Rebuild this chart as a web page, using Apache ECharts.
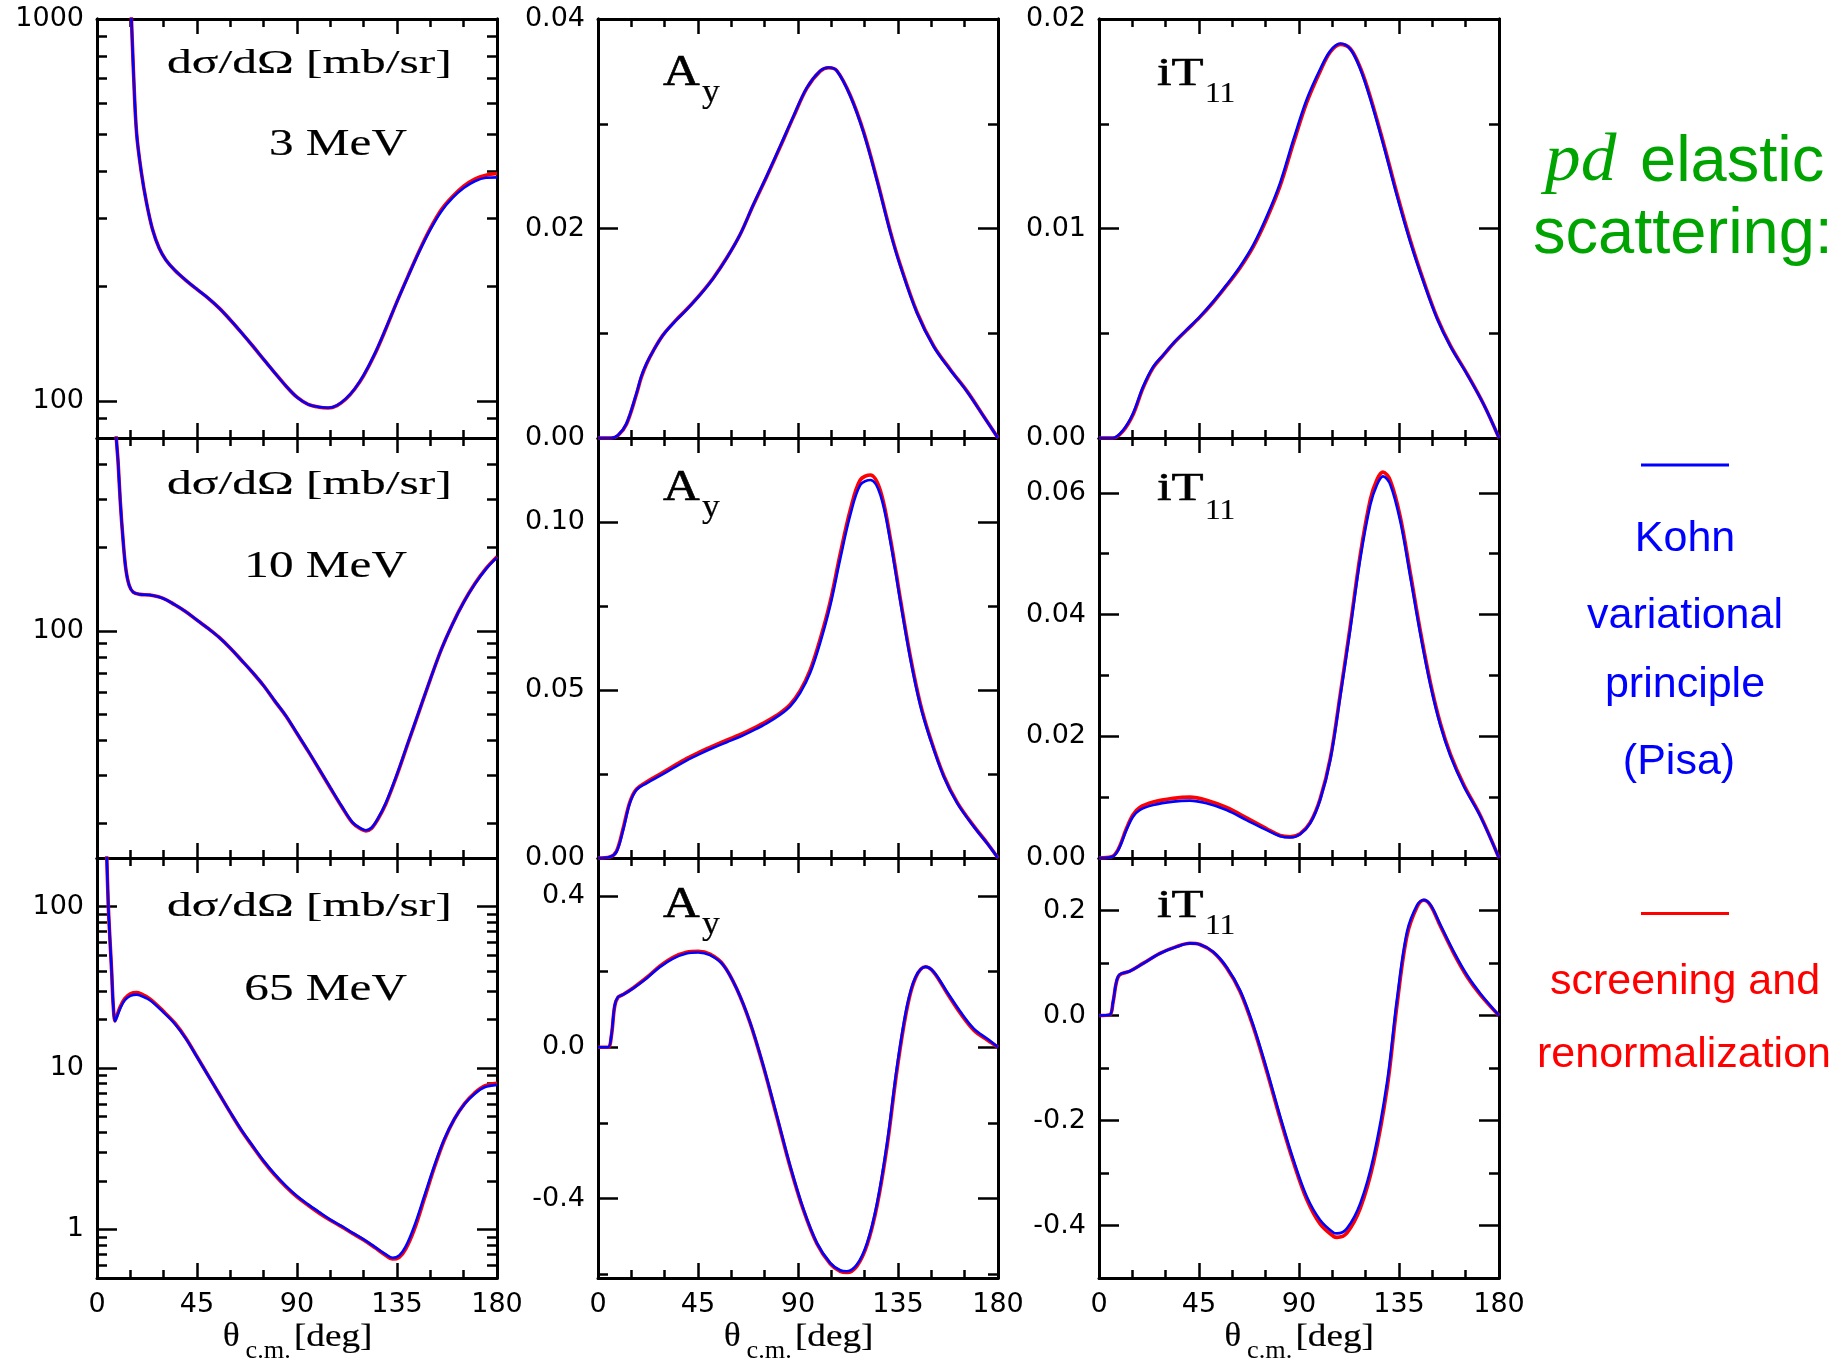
<!DOCTYPE html>
<html>
<head>
<meta charset="utf-8">
<script src="https://cdn.jsdelivr.net/npm/echarts@6/dist/echarts.min.js"></script>
<style>
html,body{margin:0;padding:0;background:#ffffff;}
#chart{width:1844px;height:1363px;}
</style>
</head>
<body>
<div id="chart"></div>
<script>
// ---------------- DATA ----------------
// Row 1: 3 MeV
const ANG_XS3 = [15.0, 15.5, 16.3, 17.8, 20, 22.3, 25, 28, 31, 35, 40, 45, 50, 55, 60, 65, 70, 75, 80, 85, 90, 95, 100, 104, 108, 112, 116, 120, 125, 130, 135, 140, 145, 150, 155, 160, 165, 170, 175, 180];
const XS3_KOHN = [1150, 1000, 754, 504, 395, 330, 281, 251, 234, 220, 207, 196, 186, 175, 163, 151, 139.5, 128.5, 118.5, 109.5, 102.3, 98, 96.4, 96.0, 97.4, 101.4, 107.7, 116.8, 133, 155, 182, 212, 246, 281, 314, 340, 361, 376, 384, 385];
const XS3_SCREEN = [1150, 1000, 754, 504, 395, 330, 281, 251, 234, 220, 207, 196, 186, 175, 163, 151, 139.5, 128.5, 118.5, 109.5, 102.3, 98, 96.3, 95.9, 97.3, 101.2, 107.5, 116.5, 132.5, 154.5, 182, 212.5, 247, 283, 317, 343, 365, 381, 390, 394];

const ANG_AY3 = [0, 6, 9.0, 12.8, 17.3, 19.5, 21.8, 24.8, 29.3, 35.3, 39.8, 45.9, 51.9, 57.9, 63.9, 69.9, 75.9, 82, 88, 94, 100, 103.8, 107.5, 113.5, 119.5, 125.6, 131.6, 136.1, 143.6, 151.1, 158.6, 166.2, 173.7, 180];
const AY3_KOHN = [0, 0, 0.00026, 0.00137, 0.00425, 0.0059, 0.0071, 0.0083, 0.00983, 0.01127, 0.01223, 0.01366, 0.01526, 0.01717, 0.01941, 0.02228, 0.025, 0.02787, 0.03074, 0.03345, 0.03505, 0.03537, 0.03505, 0.03266, 0.02915, 0.02452, 0.01957, 0.01638, 0.01191, 0.00871, 0.00648, 0.0044, 0.00201, 0];
const AY3_SCREEN = [0, 0, 0.00024, 0.00132, 0.00418, 0.0058, 0.00705, 0.0083, 0.00985, 0.0113, 0.01226, 0.01369, 0.01528, 0.01718, 0.0194, 0.02224, 0.02494, 0.0278, 0.03068, 0.0334, 0.03502, 0.03535, 0.03506, 0.03272, 0.02925, 0.02463, 0.01968, 0.01648, 0.01198, 0.00877, 0.00652, 0.00443, 0.00203, 0];

const ANG_T3 = [0, 6.3, 10.8, 15.3, 19.8, 24.4, 28.9, 33.4, 39.4, 45.4, 51.4, 57.4, 63.5, 69.5, 75.5, 81.5, 87.5, 93.5, 99.5, 104.1, 108.6, 113.1, 117.6, 122.1, 128.1, 134.1, 140.2, 146.2, 152.2, 158.2, 165.7, 173.2, 180];
const T3_KOHN = [0, 0, 0.00037, 0.00117, 0.00244, 0.0034, 0.00396, 0.00452, 0.00516, 0.00579, 0.00651, 0.00731, 0.00819, 0.00923, 0.01058, 0.01218, 0.01425, 0.01617, 0.0176, 0.01848, 0.01883, 0.01856, 0.0176, 0.01617, 0.01393, 0.01154, 0.0093, 0.00739, 0.00568, 0.00436, 0.00303, 0.00158, 0];
const T3_SCREEN = [0, 0, 0.00033, 0.00111, 0.00238, 0.00336, 0.00394, 0.0045, 0.00514, 0.00577, 0.00648, 0.00727, 0.00813, 0.00915, 0.01047, 0.01203, 0.01408, 0.01602, 0.0175, 0.01843, 0.01879, 0.01858, 0.01767, 0.01628, 0.01405, 0.01166, 0.0094, 0.00746, 0.00573, 0.0044, 0.00305, 0.00159, 0];

// Row 2: 10 MeV
const ANG_XS10 = [8.2, 8.7, 9.5, 10.5, 11.7, 13.0, 14.5, 16.3, 19.3, 23.8, 29.8, 35, 40, 45, 50, 55, 60, 65, 70, 75, 80, 85, 90, 95, 100, 105, 110, 115, 118.7, 121, 123.5, 126.2, 130, 135, 140, 145, 150, 155, 160, 165, 170, 175, 180];
const XS10_KOHN = [600, 499, 408, 292, 215, 167, 146, 138, 135.5, 134.7, 131, 124.3, 117.2, 109.3, 102, 94.6, 86.5, 78.2, 70.6, 63.2, 55.7, 49.2, 42.5, 36.7, 31.5, 27.0, 23.2, 20.2, 19.2, 18.9, 19.3, 20.7, 23.8, 30.2, 39.4, 51.3, 66.8, 85.8, 105.7, 126.7, 147.6, 167.4, 184.5];
const XS10_SCREEN = [600, 499, 408, 292, 215, 167, 146, 138, 135.5, 134.7, 131, 124.3, 117.2, 109.3, 102, 94.6, 86.5, 78.2, 70.6, 63.2, 55.6, 49.1, 42.4, 36.6, 31.4, 26.9, 23.1, 20.1, 19.1, 18.8, 19.2, 20.6, 23.6, 30.0, 39.2, 51.1, 66.7, 85.8, 105.9, 127.0, 148.0, 168.0, 185.5];

const ANG_AY10 = [0, 5.3, 8.3, 11.3, 14.3, 17.3, 21.8, 27.8, 33.8, 39.8, 45.9, 51.9, 57.9, 63.9, 69.9, 75.9, 82, 86.5, 91, 95.5, 100, 104.5, 109, 113.5, 118, 122.6, 127.1, 131.6, 136.1, 140.6, 145.1, 149.6, 155.6, 161.7, 169.2, 175.2, 180];
const AY10_KOHN = [0, 0.0003, 0.0018, 0.0083, 0.01625, 0.02024, 0.02223, 0.02443, 0.02672, 0.0290, 0.0310, 0.0328, 0.03445, 0.0361, 0.0380, 0.0401, 0.04267, 0.04516, 0.04915, 0.05513, 0.06411, 0.07507, 0.08903, 0.102, 0.111, 0.1125, 0.108, 0.094, 0.0761, 0.0591, 0.0452, 0.0352, 0.0242, 0.01625, 0.00927, 0.00429, 0];
const AY10_SCREEN = [0, 0.0003, 0.002, 0.0088, 0.0166, 0.0205, 0.0226, 0.0249, 0.0273, 0.0296, 0.0316, 0.0334, 0.0351, 0.0367, 0.0386, 0.0407, 0.0432, 0.0457, 0.0498, 0.0560, 0.0652, 0.0763, 0.0905, 0.1035, 0.1125, 0.1140, 0.1093, 0.0950, 0.0769, 0.0598, 0.0458, 0.0356, 0.0245, 0.0165, 0.0094, 0.0044, 0];

const ANG_T10 = [0, 5.6, 8.6, 12.3, 15.3, 18.3, 24.4, 33.4, 40.9, 48.4, 57.4, 66.4, 75.5, 81.5, 86, 90.5, 95, 99.5, 104.1, 108.6, 113.1, 117.6, 122.1, 125.1, 127.8, 131.1, 135.6, 140.2, 144.7, 149.2, 153.7, 158.2, 164.2, 171.7, 180];
const T10_KOHN = [0, 0.00017, 0.00127, 0.00457, 0.00678, 0.00788, 0.0087, 0.00926, 0.00942, 0.00898, 0.00788, 0.00623, 0.00457, 0.00358, 0.00336, 0.00391, 0.00568, 0.00953, 0.01614, 0.02661, 0.03763, 0.0492, 0.05802, 0.06133, 0.0627, 0.06133, 0.05527, 0.0459, 0.03653, 0.02827, 0.02165, 0.0167, 0.01174, 0.00678, 0];
const T10_SCREEN = [0, 0.0002, 0.0014, 0.0048, 0.0071, 0.0083, 0.0092, 0.0098, 0.0100, 0.0095, 0.0083, 0.0066, 0.0048, 0.0037, 0.0035, 0.0040, 0.0058, 0.0097, 0.0164, 0.0270, 0.0382, 0.0499, 0.0589, 0.0622, 0.0634, 0.0620, 0.0560, 0.0466, 0.0371, 0.0287, 0.0220, 0.0170, 0.0120, 0.0069, 0];

// Row 3: 65 MeV
const ANG_XS65 = [4.0, 4.4, 5.1, 5.8, 6.6, 7.3, 8.1, 9.0, 10.5, 12.5, 15, 17.9, 19.3, 23.8, 29.8, 35, 40, 45, 50, 55, 60, 65, 70, 75, 80, 85, 90, 95, 100, 105, 110, 115, 120, 125, 130, 133, 136, 139, 142.8, 147.3, 151.8, 156.3, 160.8, 165.4, 169.9, 174.4, 180];
const XS65_KOHN = [280, 200, 100, 63.6, 39.5, 24.5, 19.5, 20.8, 23.5, 26.3, 28.0, 28.5, 28.2, 26.3, 22.2, 18.8, 15.2, 11.7, 8.98, 6.91, 5.31, 4.13, 3.30, 2.66, 2.20, 1.86, 1.61, 1.43, 1.28, 1.15, 1.05, 0.953, 0.867, 0.780, 0.70, 0.667, 0.69, 0.787, 1.05, 1.61, 2.48, 3.63, 4.83, 5.98, 6.91, 7.60, 7.86];
const XS65_SCREEN = [280, 200, 100, 63.6, 39.5, 24.5, 19.6, 21.2, 24.0, 26.9, 28.8, 29.3, 29.0, 26.8, 22.5, 19.0, 15.3, 11.75, 9.0, 6.9, 5.29, 4.1, 3.27, 2.63, 2.17, 1.84, 1.59, 1.41, 1.26, 1.14, 1.04, 0.945, 0.86, 0.772, 0.69, 0.655, 0.672, 0.76, 1.0, 1.55, 2.42, 3.58, 4.82, 6.02, 7.0, 7.75, 8.05];

const ANG_AY65 = [0, 4.5, 6.0, 7.5, 9.0, 11.3, 15.8, 21.8, 27.8, 33.8, 39.8, 45.1, 50.4, 56.4, 62.4, 68.4, 74.4, 80.5, 86.5, 92.5, 98.5, 104.5, 109, 112, 116.5, 121.1, 125.6, 130.1, 134.6, 139.1, 142.9, 147.4, 151.1, 157.1, 163.2, 169.2, 175.2, 180];
const AY65_KOHN = [0, 0, 0.031, 0.1105, 0.1326, 0.139, 0.1555, 0.1815, 0.2115, 0.2343, 0.2475, 0.2502, 0.2431, 0.2166, 0.1547, 0.0663, -0.0486, -0.1812, -0.3138, -0.4287, -0.517, -0.570, -0.5896, -0.5923, -0.5746, -0.517, -0.411, -0.252, -0.0486, 0.1105, 0.1856, 0.2122, 0.1989, 0.1459, 0.0928, 0.0486, 0.0221, 0];
const AY65_SCREEN = [0, 0, 0.029, 0.108, 0.1318, 0.1392, 0.1566, 0.1835, 0.2141, 0.2375, 0.2508, 0.2535, 0.2458, 0.2178, 0.1545, 0.0648, -0.0512, -0.1845, -0.317, -0.4315, -0.5195, -0.5725, -0.5925, -0.5955, -0.5785, -0.522, -0.418, -0.261, -0.058, 0.104, 0.1835, 0.2125, 0.1978, 0.1425, 0.0885, 0.0445, 0.019, 0];

const ANG_T65 = [0, 4.8, 6.3, 7.8, 9.3, 13.8, 19.8, 27.4, 34.9, 40.9, 45.4, 51.4, 57.4, 63.5, 69.5, 75.5, 81.5, 87.5, 93.5, 99.5, 105.6, 107.1, 111.6, 117.6, 123.6, 129.6, 134.1, 138.6, 143.2, 146.2, 149.2, 153.7, 159.7, 165.7, 171.7, 180];
const T65_KOHN = [0, 0.0013, 0.0255, 0.0638, 0.0779, 0.0843, 0.099, 0.1181, 0.1309, 0.1373, 0.1353, 0.1213, 0.0926, 0.0479, -0.0192, -0.1021, -0.1915, -0.2745, -0.3447, -0.3894, -0.4137, -0.415, -0.4054, -0.3575, -0.2681, -0.1277, 0.0319, 0.1596, 0.2107, 0.2202, 0.2107, 0.1724, 0.1213, 0.0766, 0.0415, 0];
const T65_SCREEN = [0, 0.0012, 0.0245, 0.0628, 0.0775, 0.0843, 0.0992, 0.1185, 0.1312, 0.1375, 0.1352, 0.1205, 0.0908, 0.0452, -0.0228, -0.1065, -0.1962, -0.2795, -0.3505, -0.397, -0.421, -0.4226, -0.414, -0.367, -0.279, -0.140, 0.020, 0.152, 0.2075, 0.2195, 0.2095, 0.1695, 0.118, 0.0735, 0.039, 0];

// Tick values / labels
const XTICK_LABELS = [0, 45, 90, 135, 180];
const TICKS_XS3 = [100, 1000];
const MINOR_XS3 = [90, 200, 300, 400, 500, 600, 700, 800, 900];
const TICKS_AY3 = [0, 0.02, 0.04];
const MINOR_AY3 = [0.01, 0.03];
const TICKS_T3 = [0, 0.01, 0.02];
const MINOR_T3 = [0.005, 0.015];
const TICKS_XS10 = [100];
const MINOR_XS10 = [20, 30, 40, 50, 60, 70, 80, 90, 200, 300, 400];
const TICKS_AY10 = [0, 0.05, 0.1];
const MINOR_AY10 = [0.025, 0.075];
const TICKS_T10 = [0, 0.02, 0.04, 0.06];
const MINOR_T10 = [0.01, 0.03, 0.05];
const TICKS_XS65 = [1, 10, 100];
const MINOR_XS65 = [0.6, 0.7, 0.8, 0.9, 2, 3, 4, 5, 6, 7, 8, 9, 20, 30, 40, 50, 60, 70, 80, 90];
const TICKS_AY65 = [-0.4, 0, 0.4];
const MINOR_AY65 = [-0.6, -0.2, 0.2];
const TICKS_T65 = [-0.4, -0.2, 0, 0.2];
const MINOR_T65 = [-0.3, -0.1, 0.1];

// ---------------- LAYOUT ----------------
const COL_LEFT = [97, 598, 1099];
const PANEL_W = 400;
const ROW_TOP = [19, 438, 858];
const ROW_H = [419, 420, 420];

const fmtInt = v => String(+Number(v).toPrecision(6));
const fmt2 = v => Number(v).toFixed(2);
const fmt1 = v => Number(v).toFixed(1);

const panels = [
  {row:0, col:0, type:'log',   min:80,    max:1000,  major:TICKS_XS3,  minor:MINOR_XS3,  fmt:fmtInt, ang:ANG_XS3,  kohn:XS3_KOHN,  scr:XS3_SCREEN},
  {row:0, col:1, type:'value', min:0,     max:0.04,  major:TICKS_AY3,  minor:MINOR_AY3,  fmt:fmt2,   ang:ANG_AY3,  kohn:AY3_KOHN,  scr:AY3_SCREEN},
  {row:0, col:2, type:'value', min:0,     max:0.02,  major:TICKS_T3,   minor:MINOR_T3,   fmt:fmt2,   ang:ANG_T3,   kohn:T3_KOHN,   scr:T3_SCREEN},
  {row:1, col:0, type:'log',   min:15,    max:500,   major:TICKS_XS10, minor:MINOR_XS10, fmt:fmtInt, ang:ANG_XS10, kohn:XS10_KOHN, scr:XS10_SCREEN},
  {row:1, col:1, type:'value', min:0,     max:0.125, major:TICKS_AY10, minor:MINOR_AY10, fmt:fmt2,   ang:ANG_AY10, kohn:AY10_KOHN, scr:AY10_SCREEN},
  {row:1, col:2, type:'value', min:0,     max:0.069, major:TICKS_T10,  minor:MINOR_T10,  fmt:fmt2,   ang:ANG_T10,  kohn:T10_KOHN,  scr:T10_SCREEN},
  {row:2, col:0, type:'log',   min:0.5,   max:200,   major:TICKS_XS65, minor:MINOR_XS65, fmt:fmtInt, ang:ANG_XS65, kohn:XS65_KOHN, scr:XS65_SCREEN},
  {row:2, col:1, type:'value', min:-0.61, max:0.5,   major:TICKS_AY65, minor:MINOR_AY65, fmt:fmt1,   ang:ANG_AY65, kohn:AY65_KOHN, scr:AY65_SCREEN},
  {row:2, col:2, type:'value', min:-0.5,  max:0.3,   major:TICKS_T65,  minor:MINOR_T65,  fmt:fmt1,   ang:ANG_T65,  kohn:T65_KOHN,  scr:T65_SCREEN}
];

const BLACK = '#000000';
const tickLine = {color: BLACK, width: 2.5};
const frameLine = {show: true, onZero: false, lineStyle: {color: BLACK, width: 3}};
const labelFont = {color: BLACK, fontSize: 27, fontFamily: 'DejaVu Sans'};

const grids = [], xAxes = [], yAxes = [], series = [];

panels.forEach((p, i) => {
  grids.push({left: COL_LEFT[p.col], top: ROW_TOP[p.row], width: PANEL_W, height: ROW_H[p.row], containLabel: false, outerBoundsMode: 'none'});
  const xBase = {
    gridIndex: i, type: 'value', min: 0, max: 180, interval: 45,
    axisLine: frameLine,
    axisTick: {show: true, inside: true, length: 15, lineStyle: tickLine},
    minorTick: {show: true, splitNumber: 3, length: 8, lineStyle: tickLine},
    splitLine: {show: false}, minorSplitLine: {show: false}
  };
  xAxes.push(Object.assign({}, xBase, {position: 'bottom', axisLabel: Object.assign({show: p.row === 2, margin: 13, customValues: XTICK_LABELS}, labelFont)}));
  xAxes.push(Object.assign({}, xBase, {position: 'top', axisLabel: {show: false}}));

  const yBase = {gridIndex: i, type: p.type, min: p.min, max: p.max, axisLine: frameLine, splitLine: {show: false}, minorTick: {show: false}};
  const yIdx = yAxes.length;
  yAxes.push(Object.assign({}, yBase, {position: 'left',
    axisTick: {show: true, inside: true, length: 20, customValues: p.major, lineStyle: tickLine},
    axisLabel: Object.assign({show: true, customValues: p.major, formatter: p.fmt, margin: 13}, labelFont)}));
  yAxes.push(Object.assign({}, yBase, {position: 'left',
    axisTick: {show: true, inside: true, length: 10, customValues: p.minor, lineStyle: tickLine},
    axisLabel: {show: false}}));
  yAxes.push(Object.assign({}, yBase, {position: 'right',
    axisTick: {show: true, inside: true, length: 20, customValues: p.major, lineStyle: tickLine},
    axisLabel: {show: false}}));
  yAxes.push(Object.assign({}, yBase, {position: 'right',
    axisTick: {show: true, inside: true, length: 10, customValues: p.minor, lineStyle: tickLine},
    axisLabel: {show: false}}));

  const common = {type: 'line', xAxisIndex: 2 * i, yAxisIndex: yIdx, symbol: 'none', showSymbol: false,
    smooth: 0.35, clip: true, silent: true, animation: false};
  series.push(Object.assign({}, common, {name: 'screening and renormalization',
    data: p.ang.map((a, k) => [a, p.scr[k]]), lineStyle: {color: '#ff0000', width: 3.6}, z: 2}));
  series.push(Object.assign({}, common, {name: 'Kohn variational principle (Pisa)',
    data: p.ang.map((a, k) => [a, p.kohn[k]]), lineStyle: {color: '#0000ff', width: 2.6}, z: 3}));
});

// ---------------- TEXT ----------------
function txt(x, y, text, font, color, align, sx, strokeW) {
  const style = {text: text, font: font, fill: color, textAlign: align, textVerticalAlign: 'middle', align: align, verticalAlign: 'middle'};
  if (strokeW) { style.stroke = color; style.lineWidth = strokeW; }
  return {type: 'text', x: x, y: y, scaleX: sx || 1, silent: true, z: 10, style: style};
}
const SERIF = '"Liberation Serif", "Times New Roman", serif';
const SANS = '"Liberation Sans", Arial, sans-serif';
const GREEN = '#00a400';
const graphics = [];
const titleY = [64.5, 485, 907];
const mevY = [145, 567, 990.5];
const MEV = ['3 MeV', '10 MeV', '65 MeV'];
const AY_Y = [73.5, 488.5, 905], AYSUB_Y = [93, 508, 925];
const IT_Y = [74.7, 489.7, 906.3], ITSUB_Y = [94.3, 511, 926];
for (let r = 0; r < 3; r++) {
  graphics.push(txt(167, titleY[r], 'dσ/dΩ [mb/sr]', '33px ' + SERIF, BLACK, 'left', 1.5, 0.15));
  graphics.push(txt(407, mevY[r], MEV[r], '37px ' + SERIF, BLACK, 'right', 1.33, 0.15));
  graphics.push(txt(663, AY_Y[r], 'A', '45px ' + SERIF, BLACK, 'left', 1.13, 0.6));
  graphics.push(txt(702, AYSUB_Y[r], 'y', '33px ' + SERIF, BLACK, 'left', 1.08, 0.2));
  graphics.push(txt(1157, IT_Y[r], 'iT', '41px ' + SERIF, BLACK, 'left', 1.28, 0.6));
  graphics.push(txt(1205, ITSUB_Y[r], '11', '30px ' + SERIF, BLACK, 'left', 1.05, 0.15));
}
const colCenter = [297, 798, 1298.5];
colCenter.forEach(cx => {
  graphics.push(txt(cx - 74, 1337, 'θ', '33px ' + SERIF, BLACK, 'left', 1.05, 0.2));
  graphics.push(txt(cx - 51.5, 1351, 'c.m.', '25px ' + SERIF, BLACK, 'left', 1.05));
  graphics.push(txt(cx - 3, 1337.5, '[deg]', '32px ' + SERIF, BLACK, 'left', 1.16, 0.2));
});
// legend / annotation block
graphics.push(txt(1545, 162, 'pd', 'italic 68px ' + SERIF, GREEN, 'left', 1.05));
graphics.push(txt(1640, 163, 'elastic', '65px ' + SANS, GREEN, 'left', 1.0));
graphics.push(txt(1683, 235, 'scattering:', '65px ' + SANS, GREEN, 'center', 1.0));
graphics.push({type: 'line', silent: true, shape: {x1: 1641, y1: 465, x2: 1729, y2: 465}, style: {stroke: '#0000ff', lineWidth: 3}});
graphics.push(txt(1685, 539.5, 'Kohn', '43px ' + SANS, '#0000ff', 'center', 1.0));
graphics.push(txt(1685, 616, 'variational', '43px ' + SANS, '#0000ff', 'center', 1.0));
graphics.push(txt(1685, 685.5, 'principle', '43px ' + SANS, '#0000ff', 'center', 1.0));
graphics.push(txt(1679, 762, '(Pisa)', '43px ' + SANS, '#0000ff', 'center', 1.0));
graphics.push({type: 'line', silent: true, shape: {x1: 1641, y1: 913.5, x2: 1729, y2: 913.5}, style: {stroke: '#ff0000', lineWidth: 3}});
graphics.push(txt(1685, 982, 'screening and', '43px ' + SANS, '#ff0000', 'center', 1.0));
graphics.push(txt(1684, 1055.5, 'renormalization', '43px ' + SANS, '#ff0000', 'center', 1.0));

const chart = echarts.init(document.getElementById('chart'), null, {renderer: 'canvas', width: 1844, height: 1363});
chart.setOption({
  backgroundColor: '#ffffff',
  animation: false,
  grid: grids,
  xAxis: xAxes,
  yAxis: yAxes,
  series: series,
  graphic: {elements: graphics}
});
</script>
</body>
</html>
